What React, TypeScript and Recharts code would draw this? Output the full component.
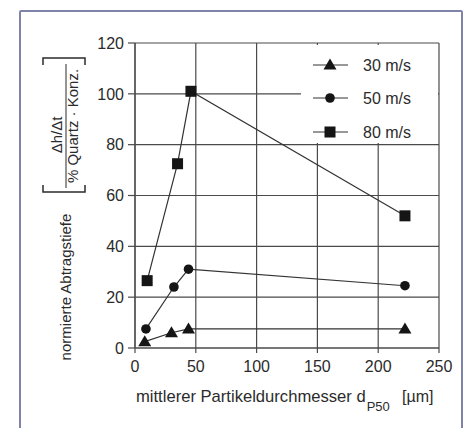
import React from 'react';
import { LineChart, Line, XAxis, YAxis, CartesianGrid, Legend } from 'recharts';

// particle diameter d_P50 [µm] and normalised removal depth per speed
const d30 = [8, 30, 44, 222];
const v30 = [2.5, 6, 7.5, 7.5];
const d50 = [9, 32, 44, 222];
const v50 = [7.5, 24, 31, 24.5];
const d80 = [10, 35, 46, 222];
const v80 = [26.5, 72.5, 101, 52];

const SERIES = ['30 m/s', '50 m/s', '80 m/s'];
const X_TICKS = [0, 50, 100, 150, 200, 250];
const Y_TICKS = [0, 20, 40, 60, 80, 100, 120];

const toPoints = (xs: number[], ys: number[]) => xs.map((x, i) => ({ x, y: ys[i] }));

const FONT = '"Liberation Sans", Arial, sans-serif';
const INK = '#151515';
const TEXT = '#2b2b2b';
const GRID = '#4a4a4a';

const Triangle = (p: any) => {
  const { cx, cy } = p;
  if (cx == null || cy == null) return null;
  return <polygon key={`t-${cx}`} points={`${cx - 6.5},${cy + 4.5} ${cx + 6.5},${cy + 4.5} ${cx},${cy - 6.5}`} fill={INK} />;
};
const Dot = (p: any) => {
  const { cx, cy } = p;
  if (cx == null || cy == null) return null;
  return <circle key={`c-${cx}`} cx={cx} cy={cy} r={4.8} fill={INK} />;
};
const Square = (p: any) => {
  const { cx, cy } = p;
  if (cx == null || cy == null) return null;
  return <rect key={`s-${cx}`} x={cx - 5.5} y={cy - 5.5} width={11} height={11} fill={INK} />;
};

const markerFor = (i: number, cx: number, cy: number) =>
  i === 0 ? <Triangle cx={cx} cy={cy} /> : i === 1 ? <Dot cx={cx} cy={cy} /> : <Square cx={cx} cy={cy} />;

const renderLegend = () => (
  <svg width={137} height={98} style={{ display: 'block' }}>
    {SERIES.map((name, i) => {
      const cy = [20, 53, 87][i];
      return (
        <g key={name}>
          <line x1={12} x2={47} y1={cy} y2={cy} stroke="#333" strokeWidth={1.2} />
          {markerFor(i, 29, cy)}
          <text x={62} y={cy} dy="0.36em" fontSize={16} fontFamily={FONT} fill={TEXT}>{name}</text>
        </g>
      );
    })}
  </svg>
);

const renderYLabel = () => (
  <g fontFamily={FONT} fill={TEXT}>
    <text transform="translate(71,287) rotate(-90)" textAnchor="middle" fontSize={15}>normierte Abtragstiefe</text>
    <text transform="translate(62,135) rotate(-90)" textAnchor="middle" fontSize={15}>Δh/Δt</text>
    <line x1={66} x2={66} y1={64} y2={188} stroke={TEXT} strokeWidth={1} />
    <text transform="translate(78,126) rotate(-90)" textAnchor="middle" fontSize={15}>% Quartz · Konz.</text>
    <path d="M43,185 L43,192 L85,192 L85,185" fill="none" stroke={TEXT} strokeWidth={1.5} />
    <path d="M43,65 L43,58 L85,58 L85,65" fill="none" stroke={TEXT} strokeWidth={1.5} />
  </g>
);

const renderXLabel = () => (
  <g fontFamily={FONT} fill={TEXT}>
    <text x={136} y={402} fontSize={16.6}>
      mittlerer Partikeldurchmesser d
      <tspan fontSize={13} dx={1} dy={9}>P50</tspan>
    </text>
    <text x={402} y={402} fontSize={16}>[µm]</text>
  </g>
);

const XTick = (p: any) => (
  <text x={p.x} y={p.y} dy={14} textAnchor="middle" fontSize={16} fontFamily={FONT} fill={TEXT}>
    {p.payload?.value}
  </text>
);

export default function App() {
  const tick = { fontSize: 16, fontFamily: FONT, fill: TEXT };
  return (
    <div style={{ position: 'fixed', left: 0, top: 0, width: 470, height: 428, background: '#fff', overflow: 'hidden' }}>
      <div style={{ position: 'absolute', left: 19, top: 10, width: 440, height: 440, border: '2px solid #7f83aa', borderRadius: 2 }} />
      <div style={{ position: 'absolute', left: 0, top: 0 }}>
        <LineChart width={470} height={428} margin={{ top: 43, right: 31, bottom: 0, left: 0 }}>
          <CartesianGrid stroke={GRID} strokeWidth={1.2} />
          <XAxis
            type="number"
            dataKey="x"
            domain={[0, 250]}
            ticks={X_TICKS}
            height={80}
            tickSize={5}
            tickMargin={5}
            tick={XTick}
            axisLine={{ stroke: GRID, strokeWidth: 1.2 }}
            tickLine={{ stroke: GRID, strokeWidth: 1.2 }}
            label={renderXLabel}
            allowDataOverflow
          />
          <YAxis
            type="number"
            dataKey="y"
            domain={[0, 120]}
            ticks={Y_TICKS}
            width={135}
            tickSize={7}
            tickMargin={4}
            tick={tick}
            axisLine={{ stroke: GRID, strokeWidth: 1.2 }}
            tickLine={{ stroke: GRID, strokeWidth: 1.2 }}
            label={renderYLabel}
            allowDataOverflow
          />
          <Line data={toPoints(d30, v30)} dataKey="y" name={SERIES[0]} stroke="#333" strokeWidth={1.2} dot={Triangle} activeDot={false} isAnimationActive={false} />
          <Line data={toPoints(d50, v50)} dataKey="y" name={SERIES[1]} stroke="#333" strokeWidth={1.2} dot={Dot} activeDot={false} isAnimationActive={false} />
          <Line data={toPoints(d80, v80)} dataKey="y" name={SERIES[2]} stroke="#333" strokeWidth={1.2} dot={Square} activeDot={false} isAnimationActive={false} />
          <Legend
            layout="vertical"
            align="center"
            verticalAlign="middle"
            content={renderLegend}
            wrapperStyle={{ left: 301, top: 45, width: 137, height: 98, background: '#fff' }}
          />
        </LineChart>
      </div>
    </div>
  );
}
